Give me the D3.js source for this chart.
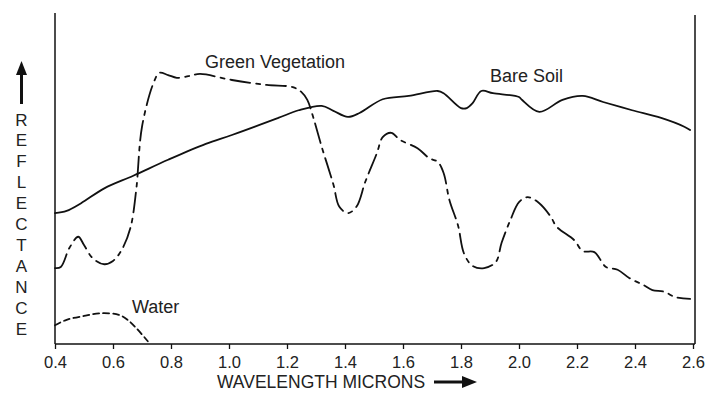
<!DOCTYPE html>
<html>
<head>
<meta charset="utf-8">
<script src="https://cdn.jsdelivr.net/npm/d3@7"></script>
<style>
  body { margin: 0; background: #fff; }
  svg { display: block; font-family: 'Liberation Sans', Arial, sans-serif; }
</style>
</head>
<body>
<div id="chart"></div>
<script>
// Spectral reflectance curves, wavelength in microns / reflectance (relative %)
const wavelengthTicks = [0.4, 0.6, 0.8, 1.0, 1.2, 1.4, 1.6, 1.8, 2.0, 2.2, 2.4, 2.6];

const soilWavelength = [0.40, 0.44, 0.49, 0.57, 0.67, 0.79, 0.92, 1.01, 1.17, 1.24, 1.32, 1.36, 1.41, 1.45,
    1.53, 1.62, 1.72, 1.74, 1.80, 1.82, 1.84, 1.87, 1.91, 2.00, 2.01, 2.07, 2.15, 2.22, 2.29, 2.39, 2.49, 2.57, 2.59];
const soilReflectance = [23.8, 24.2, 25.6, 28.3, 30.6, 33.5, 36.4, 38.0, 41.1, 42.5, 43.3, 42.4, 41.3, 42.0,
    44.5, 45.1, 46.0, 45.6, 42.9, 42.9, 43.8, 46.0, 45.6, 44.9, 44.4, 42.2, 44.4, 45.1, 44.0, 42.5, 41.1, 39.5, 38.9];

const vegWavelength = [0.40, 0.42, 0.45, 0.48, 0.50, 0.53, 0.57, 0.60, 0.63, 0.66, 0.68, 0.70, 0.74, 0.76, 0.79,
    0.82, 0.86, 0.90, 1.01, 1.13, 1.22, 1.25, 1.27, 1.29, 1.32, 1.36, 1.38, 1.41, 1.44, 1.47, 1.51,
    1.53, 1.56, 1.59, 1.65, 1.69, 1.72, 1.74, 1.76, 1.79, 1.81, 1.84, 1.88, 1.92, 1.94, 1.97, 2.00, 2.03, 2.07,
    2.11, 2.13, 2.19, 2.22, 2.26, 2.30, 2.34, 2.38, 2.43, 2.46, 2.50, 2.54, 2.59];
const vegReflectance = [13.8, 14.0, 17.5, 19.5, 18.0, 15.6, 14.5, 15.1, 17.1, 21.1, 28.0, 39.5, 47.5, 49.3, 48.9,
    48.4, 48.7, 49.1, 48.0, 47.1, 46.7, 45.8, 44.4, 41.3, 35.8, 29.0, 25.0, 23.8, 25.0, 29.5, 34.7,
    37.6, 38.4, 37.1, 35.6, 33.8, 33.1, 31.1, 26.2, 21.5, 16.5, 14.2, 13.8, 14.9, 18.4, 22.5, 25.8, 26.7, 25.6,
    23.1, 21.3, 18.9, 16.9, 16.7, 14.0, 13.5, 12.0, 10.7, 9.8, 9.5, 8.5, 8.2];

const waterWavelength = [0.40, 0.44, 0.50, 0.56, 0.62, 0.65, 0.68, 0.72];
const waterReflectance = [3.4, 4.4, 5.1, 5.6, 5.3, 4.4, 2.9, 0.5];

const width = 709, height = 394;

const svg = d3.select('#chart').append('svg')
    .attr('width', width)
    .attr('height', height);

const x = d3.scaleLinear().domain([0.4, 2.6]).range([55, 693]);
const y = d3.scaleLinear().domain([0, 60]).range([344, 14]);

const line = d3.line()
    .x(d => x(d[0]))
    .y(d => y(d[1]))
    .curve(d3.curveCatmullRom.alpha(0.5));

// frame: left and right lines
svg.append('line').attr('x1', 55).attr('x2', 55).attr('y1', 13).attr('y2', 344)
    .attr('stroke', '#111').attr('stroke-width', 1.5);
svg.append('line').attr('x1', 695).attr('x2', 695).attr('y1', 15).attr('y2', 344)
    .attr('stroke', '#111').attr('stroke-width', 1.5);

const xAxis = d3.axisBottom(x)
    .tickValues(wavelengthTicks)
    .tickFormat(d3.format('.1f'))
    .tickSize(5)
    .tickPadding(7);

const gx = svg.append('g')
    .attr('transform', 'translate(0,344)')
    .call(xAxis);
gx.select('.domain').attr('stroke', '#111').attr('stroke-width', 1.5).attr('d', 'M55,0H695');
gx.selectAll('.tick line').attr('stroke', '#111').attr('stroke-width', 1.3);
gx.selectAll('.tick text')
    .attr('fill', '#222')
    .style('font-size', '16.5px')
    .style('font-family', "'Liberation Sans', Arial, sans-serif");

// curves
const series = [
    { w: soilWavelength, r: soilReflectance, dash: null },
    { w: vegWavelength, r: vegReflectance, dash: '20,6,4,6' },
    { w: waterWavelength, r: waterReflectance, dash: '6,4' }
];
series.forEach(s => {
    svg.append('path')
        .datum(s.w.map((w, i) => [w, s.r[i]]))
        .attr('d', line)
        .attr('fill', 'none')
        .attr('stroke', '#111')
        .attr('stroke-width', 1.8)
        .attr('stroke-linejoin', 'round')
        .attr('stroke-linecap', 'round')
        .attr('stroke-dasharray', s.dash);
});

// curve labels
const labels = [
    { text: 'Green Vegetation', x: 205, y: 68 },
    { text: 'Bare Soil', x: 490, y: 82 },
    { text: 'Water', x: 132, y: 313 }
];
svg.selectAll('.curve-label').data(labels).enter()
    .append('text')
    .attr('class', 'curve-label')
    .attr('x', d => d.x)
    .attr('y', d => d.y)
    .style('font-size', '18px')
    .attr('fill', '#222')
    .text(d => d.text);

// x axis title with arrow
svg.append('text')
    .attr('x', 217)
    .attr('y', 388)
    .style('font-size', '17.5px')
    .attr('fill', '#222')
    .text('WAVELENGTH MICRONS');
svg.append('line').attr('x1', 434).attr('x2', 464).attr('y1', 382).attr('y2', 382)
    .attr('stroke', '#111').attr('stroke-width', 3);
svg.append('path').attr('d', 'M462,376 L477,382 L462,388 Z').attr('fill', '#111');

// y axis title: stacked letters with arrow
svg.append('line').attr('x1', 21.5).attr('x2', 21.5).attr('y1', 72).attr('y2', 104)
    .attr('stroke', '#111').attr('stroke-width', 3);
svg.append('path').attr('d', 'M16,75 L21.5,61 L27,75 Z').attr('fill', '#111');
'REFLECTANCE'.split('').forEach((c, i) => {
    svg.append('text')
        .attr('x', 21.5)
        .attr('y', 125.5 + i * 20.9)
        .attr('text-anchor', 'middle')
        .style('font-size', '17px')
        .attr('fill', '#222')
        .text(c);
});
</script>
</body>
</html>
